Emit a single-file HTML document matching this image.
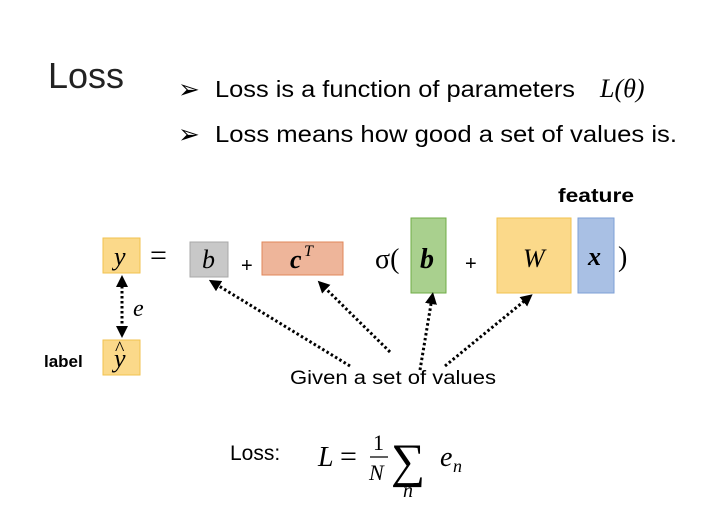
<html><body style="margin:0;background:#fff">
<svg width="720" height="529" xmlns="http://www.w3.org/2000/svg" font-family="Liberation Sans, sans-serif">
<defs>
<marker id="a" viewBox="0 0 10 10" refX="5" refY="5" markerWidth="4" markerHeight="4" orient="auto-start-reverse"><path d="M0,0L10,5L0,10z" fill="#000"/></marker>
</defs>
<text x="48" y="88" font-size="36" fill="#222" textLength="76" lengthAdjust="spacingAndGlyphs">Loss</text>
<text x="178" y="98" font-size="26">➢</text>
<text x="215" y="97" font-size="23" textLength="360" lengthAdjust="spacingAndGlyphs">Loss is a function of parameters</text>
<text x="600" y="97" font-size="26" font-family="Liberation Serif" font-style="italic">L(θ)</text>
<text x="178" y="143" font-size="26">➢</text>
<text x="215" y="142" font-size="23" textLength="462" lengthAdjust="spacingAndGlyphs">Loss means how good a set of values is.</text>
<text x="558" y="202" font-size="19" font-weight="bold" textLength="76" lengthAdjust="spacingAndGlyphs">feature</text>
<rect x="103" y="238" width="37" height="35" fill="#fbd98a" stroke="#f2c24f"/>
<rect x="190" y="242" width="38" height="35" fill="#c8c8c8" stroke="#a8a8a8"/>
<rect x="262" y="242" width="81" height="33" fill="#eeb59a" stroke="#e0875a"/>
<rect x="411" y="218" width="35" height="75" fill="#a9d08e" stroke="#70ad47"/>
<rect x="497" y="218" width="74" height="75" fill="#fbd98a" stroke="#f2c24f"/>
<rect x="578" y="218" width="36" height="75" fill="#a9c0e4" stroke="#7d9fd6"/>
<rect x="103" y="340" width="37" height="35" fill="#fbd98a" stroke="#f2c24f"/>
<g font-family="Liberation Serif" font-size="26">
<text x="114" y="265" font-style="italic">y</text>
<text x="150" y="265" font-size="30">=</text>
<text x="202" y="268" font-style="italic">b</text>
<text x="241" y="272" font-size="20" font-family="Liberation Sans">+</text>
<text x="290" y="268" font-style="italic" font-weight="bold">c</text>
<text x="304" y="256" font-size="16" font-style="italic">T</text>
<text x="375" y="268" font-size="28">σ(</text>
<text x="420" y="268" font-style="italic" font-weight="bold" font-size="28">b</text>
<text x="465" y="270" font-size="20" font-family="Liberation Sans">+</text>
<text x="523" y="267" font-style="italic">W</text>
<text x="588" y="265" font-style="italic" font-weight="bold">x</text>
<text x="618" y="266" font-size="28">)</text>
<text x="114" y="367" font-style="italic">y</text>
<text x="115" y="355" font-size="20">^</text>
<text x="133" y="316" font-style="italic" font-size="24">e</text>
<text x="318" y="466" font-style="italic" font-size="28">L</text>
<text x="340" y="466" font-size="30">=</text>
<text x="373" y="450" font-size="22">1</text>
<line x1="370" y1="457" x2="388" y2="457" stroke="#000" stroke-width="1.3"/>
<text x="369" y="480" font-size="22" font-style="italic">N</text>
<text x="391" y="477" font-size="48">∑</text>
<text x="403" y="497" font-size="20" font-style="italic">n</text>
<text x="440" y="466" font-style="italic" font-size="28">e</text>
<text x="453" y="472" font-size="18" font-style="italic">n</text>
</g>
<text x="44" y="367" font-size="17" font-weight="bold">label</text>
<text x="290" y="384" font-size="19" textLength="206" lengthAdjust="spacingAndGlyphs">Given a set of values</text>
<text x="230" y="460" font-size="21">Loss:</text>
<g stroke="#000" stroke-width="3" stroke-dasharray="2.5,2.5" fill="none">
<line x1="122" y1="281" x2="122" y2="332" marker-start="url(#a)" marker-end="url(#a)"/>
<line x1="350" y1="366" x2="214" y2="283" marker-end="url(#a)"/>
<line x1="390" y1="352" x2="322" y2="285" marker-end="url(#a)"/>
<line x1="420" y1="370" x2="432" y2="298" marker-end="url(#a)"/>
<line x1="445" y1="366" x2="528" y2="298" marker-end="url(#a)"/>
</g>
</svg>
</body></html>
